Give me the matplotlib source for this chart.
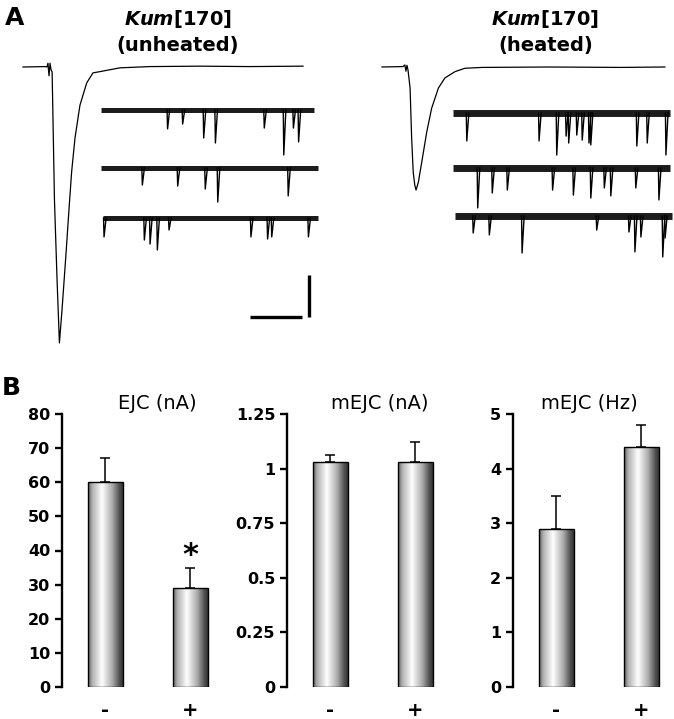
import numpy as np
import matplotlib.pyplot as plt
from matplotlib.colors import LinearSegmentedColormap

plt.rcParams['font.family'] = 'DejaVu Sans'
plt.rcParams['mathtext.fontset'] = 'custom'
plt.rcParams['mathtext.it'] = 'DejaVu Sans:italic:bold'
plt.rcParams['mathtext.rm'] = 'DejaVu Sans:bold'

# ---------------- panel B data ----------------
groups = ['-', '+']
ejc_mean = [60, 29]
ejc_err = [7, 6]
amp_mean = [1.03, 1.03]
amp_err = [0.03, 0.09]
freq_mean = [2.9, 4.4]
freq_err = [0.6, 0.4]

# ---------------- panel A data ----------------
# evoked EJC traces, time (ms) and current (nA)
ejc_unheated_t = [0, 8.5, 9.2, 9.6, 10.0, 10.4, 10.8, 11.2, 12.1, 13.1, 14.0,
                  15.0, 16.5, 17.8, 18.7, 20.0, 21.9, 24.5, 26.9, 29.6, 37.3,
                  48.8, 68.1, 87.3, 107.7]
ejc_unheated_i = [0, 0.1, 0, 0.9, -2.1, 0.9, -0.7, -1.2, -31.7, -50.7, -65.7,
                  -57.9, -44.8, -32.9, -25.0, -16.9, -9.1, -3.8, -1.4, -1.1, -0.2,
                  0.1, 0.2, 0.1, 0.2]
ejc_heated_t = [0, 8.1, 8.8, 9.2, 9.6, 10.0, 10.8, 11.4, 12.0, 12.6, 13.1,
                14.0, 15.3, 17.2, 19.1, 21.7, 24.2, 28.1, 31.9, 38.5, 64.6,
                91.5, 108.8]
ejc_heated_i = [0, 0.1, 0.5, -1.0, 0.4, -0.7, -5.0, -16.9, -25.0, -28.1, -29.3,
                -27.4, -22.6, -15.5, -9.8, -5.0, -2.6, -1.1, -0.3, -0.1, 0,
                -0.1, 0]

# spontaneous mEJC events per sweep: time (ms) and amplitude (nA)
mini_unheated_t = [[256, 314, 395, 440, 628, 703, 740, 760],
                   [159, 295, 401, 449, 720],
                   [4, 159, 181, 209, 254, 569, 633, 649, 790]]
mini_unheated_amp = [[0.90, 0.67, 1.33, 1.57, 0.86, 2.14, 0.86, 1.52],
                     [0.81, 0.86, 1.00, 1.62, 1.33],
                     [0.90, 1.05, 1.24, 1.52, 0.57, 0.90, 1.00, 0.90, 0.90]]
mini_unheated_len = [819, 835, 827]
mini_heated_t = [[53, 331, 399, 435, 445, 476, 497, 523, 530, 707, 747, 819],
                 [95, 151, 209, 383, 463, 530, 582, 607, 703, 792],
                 [70, 132, 258, 545, 669, 692, 715, 799, 808]]
mini_heated_amp = [[1.33, 1.33, 2.00, 1.10, 1.43, 1.05, 1.29, 1.43, 1.52, 1.57, 1.43, 2.00],
                   [1.90, 1.19, 1.05, 1.05, 1.29, 1.43, 0.95, 1.33, 0.95, 1.52],
                   [0.81, 0.90, 1.76, 0.67, 0.76, 1.71, 1.00, 1.95, 1.05]]
mini_heated_len = [835, 835, 835]

W, H = 674, 719
fig = plt.figure(figsize=(W / 100, H / 100), dpi=100)


def px_axes(x0, y0, x1, y1):
    return fig.add_axes([x0 / W, 1 - y1 / H, (x1 - x0) / W, (y1 - y0) / H])


# ---------------- panel A ----------------
EJC_PX_MS, EJC_PX_NA = 2.6, 4.2
MINI_PX_MS, MINI_PX_NA = 0.26, 21.0

ax_a = px_axes(0, 0, W, 370)
ax_a.set_xlim(0, W / EJC_PX_MS)
ax_a.set_ylim(-(370 - 67) / EJC_PX_NA, 67 / EJC_PX_NA)
ax_a.axis('off')
ax_a.plot(np.array(ejc_unheated_t) + 23 / EJC_PX_MS, ejc_unheated_i, color='k', lw=0.9)
ax_a.plot(np.array(ejc_heated_t) + 382 / EJC_PX_MS, ejc_heated_i, color='k', lw=0.9)
# scale bar: 20 ms / 10 nA
bar_x0, bar_y0 = 250 / EJC_PX_MS, -(317 - 67) / EJC_PX_NA
ax_a.plot([bar_x0, bar_x0 + 20], [bar_y0, bar_y0], color='k', lw=2.4, solid_capstyle='butt')
ax_a.plot([bar_x0 + 22.5, bar_x0 + 22.5], [bar_y0, bar_y0 + 10], color='k', lw=2.4,
          solid_capstyle='butt')

ax_m = px_axes(0, 0, W, 370)
ax_m.set_xlim(0, W / MINI_PX_MS)
ax_m.set_ylim(-370 / MINI_PX_NA, 0)
ax_m.axis('off')


def draw_minis(x0_px, y0_px, length, times, amps, band):
    x0 = x0_px / MINI_PX_MS
    y0 = -y0_px / MINI_PX_NA
    ax_m.plot([x0, x0 + length], [y0, y0], color='#1c1c1c', lw=band, solid_capstyle='butt')
    for t, a in zip(times, amps):
        ax_m.plot([x0 + t - 2, x0 + t, x0 + t + 8], [y0, y0 - a, y0], color='k', lw=1.0)


for row, (xs, ys) in enumerate([(101, 110), (101, 168), (103, 218)]):
    draw_minis(xs, ys, mini_unheated_len[row], mini_unheated_t[row], mini_unheated_amp[row], 3.6)
for row, (xs, ys) in enumerate([(453, 113), (453, 168), (455, 216)]):
    draw_minis(xs, ys, mini_heated_len[row], mini_heated_t[row], mini_heated_amp[row], 5.0)

fig.text(5 / W, 1 - 18 / H, 'A', fontsize=18, fontweight='bold', va='center')
fig.text(178 / W, 1 - 19 / H, r'$Kum$[170]', fontsize=14, fontweight='bold', ha='center', va='center')
fig.text(178 / W, 1 - 45 / H, '(unheated)', fontsize=14, fontweight='bold', ha='center', va='center')
fig.text(545 / W, 1 - 19 / H, r'$Kum$[170]', fontsize=14, fontweight='bold', ha='center', va='center')
fig.text(546 / W, 1 - 45 / H, '(heated)', fontsize=14, fontweight='bold', ha='center', va='center')

# ---------------- panel B ----------------
fig.text(2 / W, 1 - 388 / H, 'B', fontsize=18, fontweight='bold', va='center')

bar_cmap = LinearSegmentedColormap.from_list(
    'bar', [(0, '#5e5e5e'), (0.12, '#b0b0b0'), (0.4, '#ffffff'),
            (0.7, '#aaaaaa'), (0.9, '#505050'), (1, '#343434')])
gradient = np.linspace(0, 1, 256).reshape(1, -1)


def bar_panel(x_axis_px, means, errs, ymax, step, ticklabels, title, title_x):
    ax = px_axes(x_axis_px, 414, x_axis_px + 167, 687)
    x = np.arange(len(groups))
    width = 0.41
    bars = ax.bar(x, means, width, facecolor='none', edgecolor='k', lw=1.0, zorder=3)
    for b in bars:
        x0, w, h = b.get_x(), b.get_width(), b.get_height()
        im = ax.imshow(gradient, extent=[x0, x0 + w, 0, h], aspect='auto',
                       cmap=bar_cmap, zorder=2)
        im.set_clip_path(b)
    ax.errorbar(x, means, yerr=[[0] * len(errs), errs], fmt='none', ecolor='k',
                elinewidth=1.1, capsize=3.5, capthick=1.1, zorder=1)
    ax.set_xlim(-0.51, 1.455)
    ax.set_ylim(0, ymax)
    ax.set_yticks(np.arange(0, ymax + step / 2, step))
    ax.set_yticklabels(ticklabels, fontsize=11.5, fontweight='bold')
    ax.set_xticks(x)
    ax.set_xticklabels(groups, fontsize=14, fontweight='bold')
    for s in ['top', 'right', 'bottom']:
        ax.spines[s].set_visible(False)
    ax.spines['left'].set_linewidth(1.7)
    ax.tick_params(axis='y', direction='out', length=5, width=1.7, pad=3.5)
    ax.tick_params(axis='x', length=0, pad=10)
    ax.annotate(title, xy=(title_x, 1.037), xycoords=('data', 'axes fraction'),
                ha='center', va='center', fontsize=14)
    return ax


ax1 = bar_panel(62, ejc_mean, ejc_err, 80, 10,
                ['0', '10', '20', '30', '40', '50', '60', '70', '80'], 'EJC (nA)', 0.61)
ax1.text(1, 38.5, '*', ha='center', va='center', fontsize=22, fontweight='bold')
bar_panel(287, amp_mean, amp_err, 1.25, 0.25,
          ['0', '0.25', '0.5', '0.75', '1', '1.25'], 'mEJC (nA)', 0.58)
bar_panel(513, freq_mean, freq_err, 5, 1,
          ['0', '1', '2', '3', '4', '5'], 'mEJC (Hz)', 0.39)

fig.savefig('out.png', dpi=100)
